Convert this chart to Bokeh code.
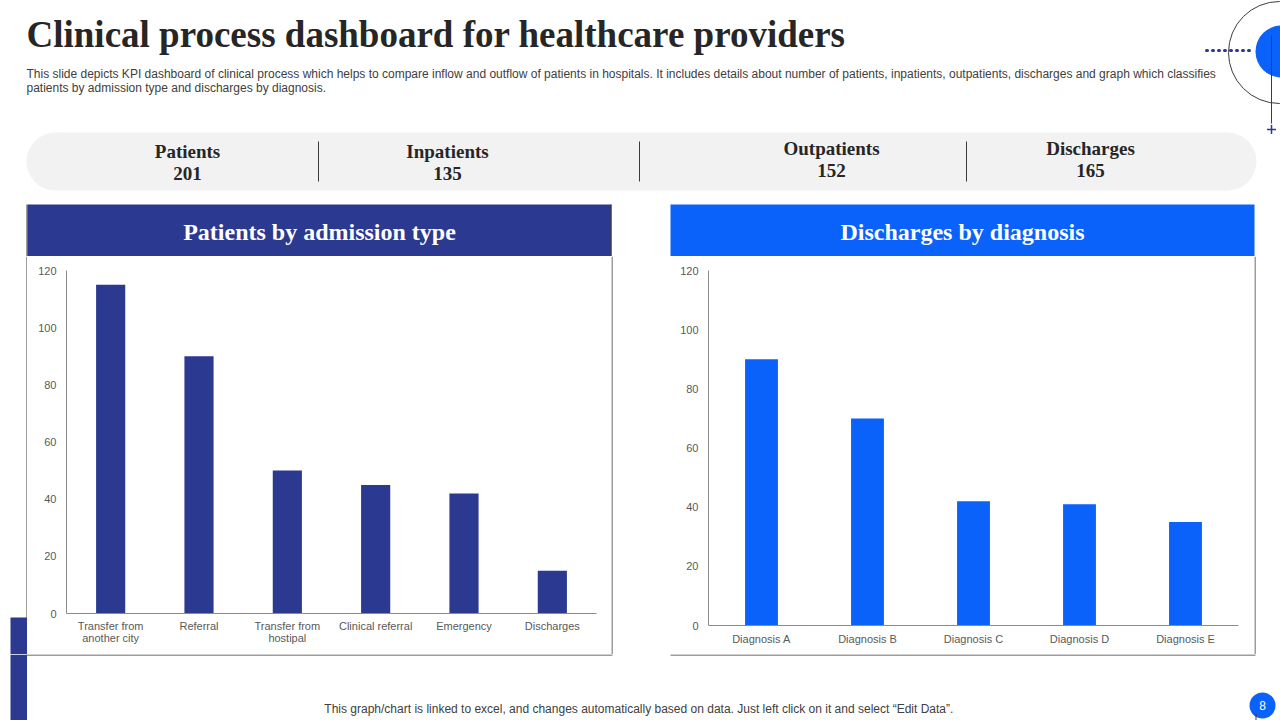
from bokeh.plotting import figure
from bokeh.models import Range1d, FactorRange, FixedTicker, LinearAxis
from bokeh.layouts import row, column
from bokeh.core.properties import value
from bokeh.embed import file_html
from bokeh.resources import INLINE

# ---------------- data ----------------
kpi_labels = ["Patients", "Inpatients", "Outpatients", "Discharges"]
kpi_values = [201, 135, 152, 165]

admission_types = ["Transfer from another city", "Referral", "Transfer from hostipal",
                   "Clinical referral", "Emergency", "Discharges"]
admission_label_line1 = ["Transfer from", "Referral", "Transfer from",
                         "Clinical referral", "Emergency", "Discharges"]
admission_label_line2 = ["another city", " ", "hostipal", " ", " ", " "]
admission_patients = [115, 90, 50, 45, 42, 15]

diagnoses = ["Diagnosis A", "Diagnosis B", "Diagnosis C", "Diagnosis D", "Diagnosis E"]
diagnosis_discharges = [90, 70, 42, 41, 35]

y_ticks = [0, 20, 40, 60, 80, 100, 120]

title_text = "Clinical process dashboard for healthcare providers"
subtitle_lines = [
    "This slide depicts KPI dashboard of clinical process which helps to compare inflow and outflow of patients in hospitals. It includes details about number of patients, inpatients, outpatients, discharges and graph which classifies",
    "patients by admission type and discharges by diagnosis.",
]
left_title = "Patients by admission type"
right_title = "Discharges by diagnosis"
footer_text = "This graph/chart is linked to excel,  and changes automatically based on data. Just left click on it and select \u201cEdit Data\u201d."
page_number = "8"

# ---------------- style ----------------
NAVY = "#2B3990"
BLUE = "#0A62FB"
DARK = "#262626"
BORDER = "#3C3C3C"
SERIF = value("Liberation Serif")
SANS = value("Liberation Sans")


def canvas(x0, x1, y0, y1, fill="white"):
    f = figure(width=x1 - x0, height=y1 - y0,
               x_range=Range1d(x0, x1), y_range=Range1d(y1, y0),
               x_axis_location=None, y_axis_location=None,
               output_backend="svg", toolbar_location=None, tools="",
               min_border=0)
    f.grid.visible = False
    f.outline_line_color = None
    f.background_fill_color = fill
    f.border_fill_color = fill
    return f


# ---------------- top area (title, KPI band, panel headers) ----------------
top = canvas(0, 1280, 0, 256)
top.text(x=[26], y=[34], text=[title_text], text_font=SERIF, text_font_style="bold",
         text_font_size="37px", text_color=DARK, text_baseline="middle")
top.text(x=[26, 26], y=[73, 87], text=subtitle_lines, text_font=SANS,
         text_font_size="12px", text_color="#404040", text_baseline="middle")

# decoration top right
top.circle(x=[1279], y=[52], radius=51, fill_color=None, line_color=BORDER, line_width=1)
top.circle(x=[1281], y=[51], radius=26, fill_color=BLUE, line_color=None)
top.line(x=[1206, 1252], y=[50, 50], line_color=NAVY, line_width=3,
         line_dash="1 5", line_cap="round")
top.line(x=[1271, 1271], y=[35, 123], line_color=BORDER, line_width=1)
top.scatter(x=[1271], y=[129], marker="cross", size=9, line_color=NAVY, line_width=1.5)

# KPI band (pill)
top.quad(left=[55], right=[1227], top=[132], bottom=[190], fill_color="#F2F2F2", line_color=None)
top.ellipse(x=[55, 1227], y=[161, 161], width=58, height=58, fill_color="#F2F2F2", line_color=None)
kpi_x = [187, 447, 831, 1090]
kpi_ly = [151, 151, 148, 148]
kpi_vy = [173, 173, 170, 170]
top.text(x=kpi_x, y=kpi_ly, text=kpi_labels, text_font=SERIF, text_font_style="bold",
         text_font_size="19px", text_color=DARK, text_align="center", text_baseline="middle")
top.text(x=kpi_x, y=kpi_vy, text=[str(v) for v in kpi_values], text_font=SERIF,
         text_font_style="bold", text_font_size="19px", text_color=DARK,
         text_align="center", text_baseline="middle")
top.segment(x0=[318, 639, 966], y0=[141, 141, 141], x1=[318, 639, 966], y1=[181, 181, 181],
            line_color=BORDER, line_width=1)

# panel headers
top.quad(left=[27, 670], right=[611, 1254], top=[204, 204], bottom=[256, 256],
         fill_color=[NAVY, BLUE], line_color=None)
top.text(x=[319, 962], y=[231, 231], text=[left_title, right_title], text_font=SERIF,
         text_font_style="bold", text_font_size="24px", text_color="white",
         text_align="center", text_baseline="middle")
top.segment(x0=[26.5, 610.5], y0=[204, 204], x1=[26.5, 610.5], y1=[256, 256],
            line_color=BORDER, line_width=1)


# ---------------- bar charts ----------------
def style_axis(ax, standoff):
    ax.axis_line_color = "#8C8C8C"
    ax.axis_line_width = 1
    ax.major_tick_line_color = None
    ax.minor_tick_line_color = None
    ax.major_tick_out = 0
    ax.major_tick_in = 0
    ax.major_label_text_font = "Liberation Sans"
    ax.major_label_text_font_size = "11px"
    ax.major_label_text_color = "#595959"
    ax.major_label_standoff = standoff


def finish(c):
    c.grid.visible = False
    c.outline_line_color = None
    c.yaxis.ticker = FixedTicker(ticks=y_ticks)
    style_axis(c.yaxis[0], 10)


# left chart: categories placed at index positions on a linear scale
adm_pos = list(range(len(admission_types)))
left_chart = figure(width=584, height=398, x_range=Range1d(-0.5, len(admission_types) - 0.5),
                    y_range=Range1d(0, 120), output_backend="svg", toolbar_location=None, tools="",
                    min_border_left=39, min_border_right=15, min_border_top=14, min_border_bottom=41)
left_chart.vbar(x=adm_pos, top=admission_patients, width=0.33, fill_color=NAVY, line_color=None)
finish(left_chart)
xa = left_chart.xaxis[0]
xa.ticker = FixedTicker(ticks=adm_pos)
xa.major_label_overrides = {i: t for i, t in zip(adm_pos, admission_label_line1)}
style_axis(xa, 6)
second = LinearAxis(ticker=FixedTicker(ticks=adm_pos),
                    major_label_overrides={i: t for i, t in zip(adm_pos, admission_label_line2)})
style_axis(second, -3)
second.axis_line_color = None
left_chart.add_layout(second, "below")

# right chart: categorical
right_chart = figure(width=584, height=398, x_range=FactorRange(*diagnoses), y_range=Range1d(0, 120),
                     output_backend="svg", toolbar_location=None, tools="",
                     min_border_left=38, min_border_right=16, min_border_top=14, min_border_bottom=29)
right_chart.vbar(x=diagnoses, top=diagnosis_discharges, width=0.31, fill_color=BLUE, line_color=None)
right_chart.x_range.range_padding = 0
finish(right_chart)
style_axis(right_chart.xaxis[0], 7)

# side spacers carrying the panel borders
s_left = canvas(0, 27, 256, 654)
s_left.segment(x0=[26.5], y0=[256], x1=[26.5], y1=[654], line_color=BORDER, line_width=1)
s_left.quad(left=[10], right=[26.5], top=[617], bottom=[654], fill_color=NAVY, line_color=None)

gap = canvas(611, 670, 256, 654)
gap.segment(x0=[611.5, 670.5], y0=[256, 256], x1=[611.5, 670.5], y1=[654, 654],
            line_color=BORDER, line_width=1)

s_right = canvas(1254, 1280, 256, 654)
s_right.segment(x0=[1254.5], y0=[256], x1=[1254.5], y1=[654], line_color=BORDER, line_width=1)

# ---------------- bottom ----------------
bottom = canvas(0, 1280, 654, 720)
bottom.quad(left=[10], right=[26.5], top=[654], bottom=[720], fill_color=NAVY, line_color=None)
bottom.segment(x0=[26, 670], y0=[654.5, 654.5], x1=[612, 1255], y1=[654.5, 654.5],
               line_color=BORDER, line_width=1)
bottom.text(x=[640], y=[708], text=[footer_text], text_font=SANS, text_font_size="12px",
            text_color="#404040", text_align="center", text_baseline="middle")
bottom.circle(x=[1262], y=[705], radius=13, fill_color=BLUE, line_color=None)
bottom.text(x=[1262], y=[705], text=[page_number], text_font=SANS, text_font_size="12px",
            text_color="white", text_align="center", text_baseline="middle")
bottom.segment(x0=[1255.5], y0=[713], x1=[1255.5], y1=[720], line_color=BORDER, line_width=1)

page = column(
    top,
    row(column(s_left), column(left_chart), column(gap), column(right_chart), column(s_right)),
    bottom,
)

open("out.html", "w").write(file_html(page, INLINE))
